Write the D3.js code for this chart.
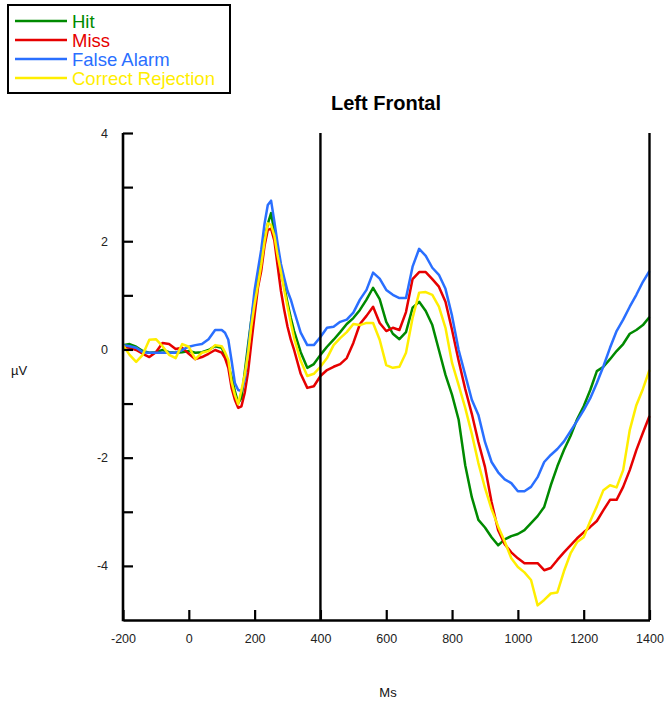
<!DOCTYPE html>
<html>
<head>
<meta charset="utf-8">
<script src="https://cdn.jsdelivr.net/npm/d3@7"></script>
<style>
  body { margin: 0; background: #fff; }
  svg { display: block; font-family: Arial, "Liberation Sans", Helvetica, sans-serif; }
</style>
</head>
<body>
<svg id="chart" width="665" height="704"></svg>
<script>
// Sample times (ms); denser sampling around the early P1/N1/P2 complex
const times = [
  -200, -180, -160, -140, -120, -100, -80, -60, -40, -20, 0, 20, 40, 60, 80, 100,
  110, 120, 130, 140, 150, 160, 170, 180, 190, 200, 210, 220, 230, 240, 250, 260, 270, 280, 290, 300, 310, 320,
  340, 360, 380, 400, 420, 440, 460, 480, 500, 520,
  540, 560, 580, 600, 620, 640, 660, 680, 700, 720,
  740, 760, 780, 800, 820, 840, 860, 880, 900, 920,
  940, 960, 980, 1000, 1020, 1040, 1060, 1080, 1100, 1120,
  1140, 1160, 1180, 1200, 1220, 1240, 1260, 1280, 1300, 1320,
  1340, 1360, 1380, 1400
];

// Grand-average amplitudes (µV), one value per sample time
const hit = [
  0.08, 0.10, 0.05, -0.03, -0.06, -0.05, -0.01, -0.05, -0.06, -0.05, -0.03, -0.06, -0.05, -0.01, 0.06, 0.03,
  -0.10, -0.29, -0.51, -0.77, -0.99, -0.90, -0.42, 0.08, 0.55, 0.97, 1.34, 1.64, 2.03, 2.32, 2.52, 2.17, 1.80, 1.42, 1.16, 0.86, 0.58, 0.34,
  -0.05, -0.34, -0.27, -0.10, 0.05, 0.18, 0.32, 0.47, 0.58, 0.73,
  0.92, 1.14, 0.93, 0.51, 0.29, 0.19, 0.32, 0.77, 0.88, 0.71,
  0.45, -0.01, -0.47, -0.84, -1.30, -2.14, -2.73, -3.15, -3.29, -3.47,
  -3.62, -3.51, -3.45, -3.41, -3.34, -3.21, -3.08, -2.91, -2.51, -2.16,
  -1.86, -1.60, -1.29, -1.05, -0.75, -0.40, -0.32, -0.18, -0.03, 0.10,
  0.29, 0.36, 0.45, 0.60
];
const miss = [
  0.05, 0.03, -0.01, -0.08, -0.14, -0.05, 0.12, 0.10, 0.01, 0.03, -0.08, -0.18, -0.14, -0.08, -0.01, -0.06,
  -0.16, -0.34, -0.71, -0.93, -1.08, -1.05, -0.80, -0.42, 0.12, 0.64, 1.14, 1.45, 1.91, 2.21, 2.23, 2.01, 1.54, 1.08, 0.73, 0.42, 0.18, -0.01,
  -0.45, -0.71, -0.68, -0.49, -0.38, -0.32, -0.27, -0.16, 0.12, 0.47,
  0.62, 0.79, 0.49, 0.34, 0.40, 0.36, 0.69, 1.30, 1.43, 1.43,
  1.30, 1.16, 0.88, 0.36, -0.21, -0.73, -1.19, -1.71, -2.17, -2.82,
  -3.34, -3.60, -3.75, -3.86, -3.95, -3.95, -3.95, -4.08, -4.04, -3.89,
  -3.75, -3.62, -3.49, -3.38, -3.28, -3.17, -2.97, -2.78, -2.78, -2.54,
  -2.23, -1.86, -1.54, -1.23
];
const falseAlarm = [
  0.08, 0.06, 0.03, -0.05, -0.06, -0.06, -0.06, -0.06, -0.06, -0.01, 0.05, 0.08, 0.10, 0.19, 0.36, 0.36,
  0.31, 0.18, -0.21, -0.62, -0.75, -0.77, -0.56, -0.01, 0.55, 1.10, 1.47, 1.84, 2.32, 2.67, 2.75, 2.36, 1.95, 1.58, 1.32, 1.08, 0.92, 0.71,
  0.31, 0.08, 0.08, 0.23, 0.40, 0.42, 0.51, 0.55, 0.68, 0.92,
  1.10, 1.42, 1.31, 1.10, 1.01, 0.95, 0.95, 1.53, 1.86, 1.73,
  1.51, 1.38, 1.12, 0.62, -0.01, -0.47, -0.93, -1.21, -1.71, -2.08,
  -2.27, -2.40, -2.47, -2.62, -2.62, -2.54, -2.36, -2.08, -1.95, -1.84,
  -1.70, -1.51, -1.32, -1.12, -0.90, -0.62, -0.31, 0.03, 0.34, 0.55,
  0.79, 1.01, 1.25, 1.45
];
const correctRejection = [
  0.08, -0.10, -0.23, -0.10, 0.18, 0.19, 0.06, -0.10, -0.16, 0.10, 0.05, -0.18, -0.06, -0.03, 0.08, 0.06,
  -0.05, -0.19, -0.60, -0.84, -1.01, -0.75, -0.47, -0.08, 0.43, 0.84, 1.19, 1.56, 1.99, 2.33, 2.30, 2.10, 1.73, 1.43, 1.10, 0.79, 0.49, 0.21,
  -0.21, -0.49, -0.45, -0.32, -0.16, 0.08, 0.21, 0.32, 0.47, 0.45,
  0.49, 0.49, 0.18, -0.29, -0.34, -0.32, -0.06, 0.58, 1.05, 1.06,
  1.01, 0.79, 0.40, -0.25, -0.66, -1.08, -1.56, -2.10, -2.56, -2.95,
  -3.27, -3.55, -3.86, -4.02, -4.12, -4.26, -4.73, -4.63, -4.51, -4.49,
  -4.10, -3.77, -3.56, -3.47, -3.17, -2.90, -2.60, -2.51, -2.55, -2.23,
  -1.49, -1.03, -0.73, -0.38
];

const seriesNames  = ["Hit", "Miss", "False Alarm", "Correct Rejection"];
const seriesValues = [hit, miss, falseAlarm, correctRejection];
const seriesColors = ["#008a00", "#e60000", "#2a6fff", "#ffee00"];

const xTicks   = [-200, 0, 200, 400, 600, 800, 1000, 1200, 1400];
const yTicks   = [-4, -3, -2, -1, 0, 1, 2, 3, 4];
const yLabeled = [-4, -2, 0, 2, 4];
const markerTimes = [400, 1400];

const svg = d3.select("#chart");

const x = d3.scaleLinear().domain([-200, 1400]).range([123, 649.5]);
const y = d3.scaleLinear().domain([-5, 4]).range([620, 133]);

// Title
svg.append("text")
  .attr("x", 386).attr("y", 110)
  .attr("text-anchor", "middle")
  .attr("font-size", 20).attr("font-weight", "bold")
  .attr("fill", "#000")
  .text("Left Frontal");

// Axis titles
svg.append("text")
  .attr("x", 19).attr("y", 375)
  .attr("text-anchor", "middle")
  .attr("font-size", 13).attr("fill", "#111")
  .text("µV");
svg.append("text")
  .attr("x", 388).attr("y", 697)
  .attr("text-anchor", "middle")
  .attr("font-size", 13).attr("fill", "#111")
  .text("Ms");

// Waveforms
const line = d3.line()
  .x((d, i) => x(times[i]))
  .y(d => y(d));

svg.append("g")
  .selectAll("path")
  .data(seriesValues)
  .join("path")
  .attr("d", d => line(d))
  .attr("fill", "none")
  .attr("stroke", (d, i) => seriesColors[i])
  .attr("stroke-width", 2.5)
  .attr("stroke-linejoin", "round");

// Vertical markers
svg.append("g")
  .selectAll("line")
  .data(markerTimes)
  .join("line")
  .attr("x1", d => x(d)).attr("x2", d => x(d))
  .attr("y1", y(4)).attr("y2", y(-5))
  .attr("stroke", "#000")
  .attr("stroke-width", 2.4);

const plainNumber = d => String(d);

// Y axis: inward ticks at every µV, labels on even values
const yAxis = d3.axisLeft(y)
  .tickValues(yTicks)
  .tickSize(-10)
  .tickSizeOuter(0)
  .tickPadding(15)
  .tickFormat(d => yLabeled.includes(d) ? plainNumber(d) : "");
const gy = svg.append("g")
  .attr("transform", `translate(${x(-200)},0)`)
  .call(yAxis);

// X axis: inward ticks
const xAxis = d3.axisBottom(x)
  .tickValues(xTicks)
  .tickSize(-10)
  .tickSizeOuter(0)
  .tickPadding(14)
  .tickFormat(plainNumber);
const gx = svg.append("g")
  .attr("transform", `translate(0,${y(-5)})`)
  .call(xAxis);

[gx, gy].forEach(g => {
  g.select(".domain").attr("stroke", "#000").attr("stroke-width", 2.6);
  g.selectAll(".tick line").attr("stroke", "#000").attr("stroke-width", 2.2);
  g.selectAll(".tick text")
    .attr("font-size", 12.5)
    .attr("font-family", "Arial, 'Liberation Sans', sans-serif")
    .attr("fill", "#222");
});
// Extend y axis down to the x axis line so the corner closes
gy.select(".domain").attr("d", `M0,${y(4)}V${y(-5) + 1.3}`);

// Legend
const legend = svg.append("g");
legend.append("rect")
  .attr("x", 8).attr("y", 5)
  .attr("width", 222).attr("height", 88)
  .attr("fill", "#fff")
  .attr("stroke", "#000")
  .attr("stroke-width", 2);

const rowY = [21, 40, 59, 78];
const rows = legend.selectAll("g.row")
  .data(seriesNames)
  .join("g")
  .attr("class", "row")
  .attr("transform", (d, i) => `translate(0,${rowY[i]})`);
rows.append("line")
  .attr("x1", 15).attr("x2", 67)
  .attr("y1", 0).attr("y2", 0)
  .attr("stroke", (d, i) => seriesColors[i])
  .attr("stroke-width", 2.5);
rows.append("text")
  .attr("x", 72).attr("y", 7)
  .attr("font-size", 18.5)
  .attr("fill", (d, i) => seriesColors[i])
  .text(d => d);
</script>
</body>
</html>
